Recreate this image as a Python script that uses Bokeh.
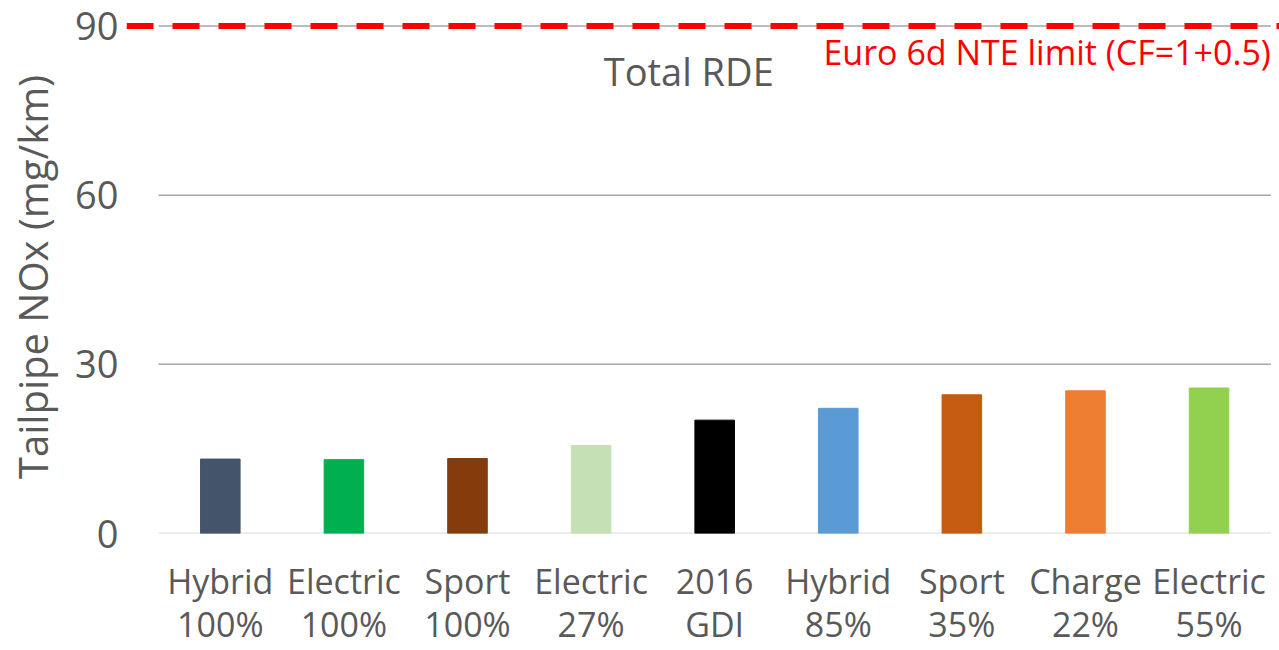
from bokeh.plotting import figure
from bokeh.models import Range1d, FixedTicker, Label, Span
from bokeh.embed import file_html
from bokeh.resources import INLINE

categories = ["Hybrid\n100%", "Electric\n100%", "Sport\n100%", "Electric\n27%",
              "2016\nGDI", "Hybrid\n85%", "Sport\n35%", "Charge\n22%", "Electric\n55%"]
nox = [13.2, 13.1, 13.3, 15.6, 20.1, 22.2, 24.6, 25.3, 25.8]
colors = ["#44546A", "#00B050", "#843C0C", "#C5E0B4", "#000000",
          "#5B9BD5", "#C55A11", "#ED7D31", "#92D050"]
y_ticks = [0, 30, 60, 90]
limit = 90
limit_label = "Euro 6d NTE limit (CF=1+0.5)"
title_text = "Total RDE"
y_label = "Tailpipe NOx (mg/km)"

FONT = "Open Sans"
GREY = "#595959"

n = len(categories)
xs = [i + 0.5 for i in range(n)]

p = figure(width=1279, height=650,
           x_range=Range1d(-0.259, 9.07), y_range=Range1d(0, 90.97),
           output_backend="svg", toolbar_location=None,
           min_border_left=126, min_border_top=20, min_border_right=0,
           min_border_bottom=116)
p.outline_line_color = None
p.xgrid.visible = False
p.ygrid.visible = False
p.background_fill_color = "white"

# gridlines across the category span
p.segment(x0=[0] * (len(y_ticks) - 1), x1=[n] * (len(y_ticks) - 1),
          y0=y_ticks[1:], y1=y_ticks[1:], line_color="#a6a6a6", line_width=1.5)
p.segment(x0=[0], x1=[n], y0=[y_ticks[0]], y1=[y_ticks[0]],
          line_color="#d9d9d9", line_width=2)

p.vbar(x=xs, top=nox, width=0.32, fill_color=colors, line_color=colors)

p.add_layout(Span(location=limit, dimension="width", line_color="#FF0000",
                  line_width=6, line_dash="27 19"))

# axes
p.xaxis.ticker = FixedTicker(ticks=xs)
p.xaxis.major_label_overrides = {x: c for x, c in zip(xs, categories)}
p.xaxis.axis_line_color = None
p.xaxis.major_tick_line_color = None
p.xaxis.minor_tick_line_color = None
p.xaxis.major_label_text_font = FONT
p.xaxis.major_label_text_font_size = "34px"
p.xaxis.major_label_text_color = GREY
p.xaxis.major_label_text_line_height = 0.95
p.xaxis.major_label_standoff = 18

p.yaxis.ticker = FixedTicker(ticks=y_ticks)
p.yaxis.axis_line_color = None
p.yaxis.major_tick_line_color = None
p.yaxis.minor_tick_line_color = None
p.yaxis.major_label_text_font = FONT
p.yaxis.major_label_text_font_size = "38px"
p.yaxis.major_label_text_color = GREY
p.yaxis.major_label_standoff = 2
p.yaxis.axis_label = y_label
p.yaxis.axis_label_text_font = FONT
p.yaxis.axis_label_text_font_size = "40px"
p.yaxis.axis_label_text_font_style = "normal"
p.yaxis.axis_label_text_color = GREY
p.yaxis.axis_label_standoff = 12

p.add_layout(Label(x=4.29, y=82.0, text=title_text, text_align="center",
                   text_baseline="alphabetic", text_font=FONT,
                   text_font_size="38px", text_color=GREY))
p.add_layout(Label(x=9.0, y=85.3, text=limit_label, text_align="right",
                   text_baseline="alphabetic", text_font=FONT,
                   text_font_size="34px", text_color="#FF0000"))

open("out.html", "w").write(file_html(p, INLINE))
